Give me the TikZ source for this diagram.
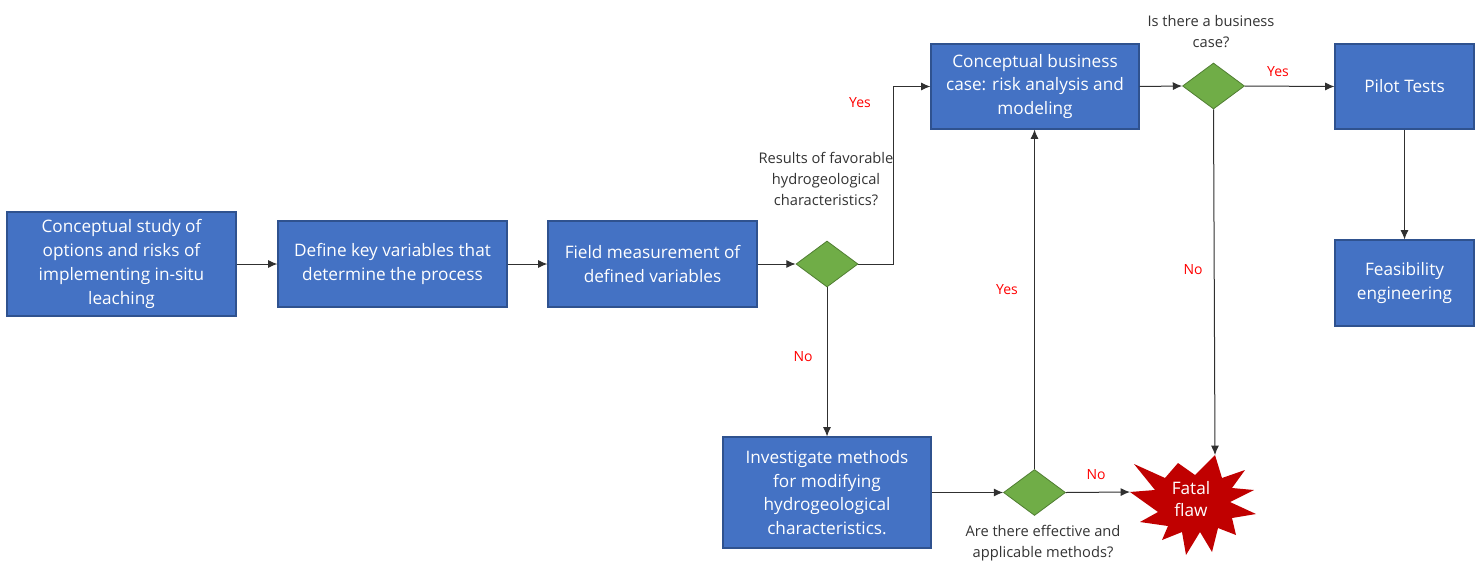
\documentclass[tikz,border=0pt]{standalone}
\usepackage{fontspec}
\setmainfont{Open Sans}
\usetikzlibrary{arrows.meta,shapes.geometric}
\definecolor{boxblue}{HTML}{4472C4}
\definecolor{boxedge}{HTML}{2F528F}
\definecolor{decgreen}{HTML}{70AD47}
\definecolor{decedge}{HTML}{507E32}
\definecolor{starred}{HTML}{C00000}
\definecolor{linegray}{HTML}{303030}
\begin{document}
\begin{tikzpicture}[x=0.75pt,y=-0.75pt,
  box/.style={draw=boxedge, fill=boxblue, text=white, align=center,
    font=\fontsize{12.9}{17.8}\selectfont, inner sep=0pt, line width=0.8pt},
  dec/.style={diamond, draw=decedge, fill=decgreen, inner sep=0pt,
    minimum width=46.5pt, minimum height=34.5pt, line width=0.6pt},
  qtext/.style={align=center, text=black!80, font=\fontsize{11}{15.75}\selectfont, inner sep=0pt},
  ans/.style={text=red, font=\fontsize{10.5}{13}\selectfont, inner sep=0pt},
  arr/.style={draw=linegray, line width=0.75pt, -{Latex[length=7pt,width=6pt]}},
  ln/.style={draw=linegray, line width=0.75pt}]
\useasboundingbox (0,0) rectangle (1482,561);

% boxes
\node[box, minimum width=171.75pt, minimum height=78pt] (b1) at (121.5,264)
  {Conceptual study of\\options and risks of\\implementing in-situ\\leaching};
\node[box, minimum width=171.75pt, minimum height=64.5pt] (b2) at (392.5,264)
  {Define key variables that\\determine the process};
\node[box, minimum width=156.75pt, minimum height=64.5pt] (b3) at (652.5,264)
  {Field measurement of\\defined variables};
\node[dec] (d1) at (827,264) {};
\node[box, minimum width=156pt, minimum height=63.75pt] (b5) at (1035,86.5)
  {Conceptual business\\case: risk analysis and\\modeling};
\node[dec] (d2) at (1213.5,86) {};
\node[box, minimum width=104.25pt, minimum height=63.75pt] (b7) at (1404.5,86.5)
  {Pilot Tests};
\node[box, minimum width=104.25pt, minimum height=64.5pt] (b8) at (1404.5,283)
  {Feasibility\\engineering};
\node[box, minimum width=156pt, minimum height=83.25pt] (b9) at (827,492.5)
  {Investigate methods\\for modifying\\hydrogeological\\characteristics.};
\node[dec] (d3) at (1034.5,492.5) {};

% star (fatal flaw)
\coordinate (O1) at (1215,455);
\coordinate (O10) at (1130,492);
\fill[starred] (O1) -- (1222,478) -- (1245,470) -- (1232,488) -- (1254,490)
  -- (1230,502) -- (1256,514) -- (1232,518) -- (1236,535) -- (1218,528)
  -- (1212,552) -- (1200,532) -- (1186,555) -- (1182,532) -- (1162,540)
  -- (1168,526) -- (1140,522) -- (1158,512) -- (O10) -- (1155,490)
  -- (1134,464) -- (1165,478) -- (1178,463) -- (1195,475) -- cycle;
\node[text=white, align=center, font=\fontsize{12.9}{17}\selectfont, inner sep=0pt] (fatal) at (1191,499) {Fatal\\flaw};

% question texts
\node[qtext] (q1) at (826,179) {Results of favorable\\hydrogeological\\characteristics?};
\node[qtext] (q2) at (1211,32) {Is there a business\\case?};
\node[qtext] (q3) at (1043,543) {Are there effective and\\applicable methods?};

% connectors
\draw[arr] (b1) -- (b2);
\draw[arr] (b2) -- (b3);
\draw[arr] (b3) -- (d1);
\coordinate (c1) at (893,264);
\draw[arr] (d1.east) -- (c1) |- (b5.west);
\draw[arr] (d1.south) -- (b9.north);
\draw[arr] (b9.east) -- (d3.west);
\draw[arr] (d3.north) -- (d3.north |- b5.south);
\draw[arr] (d3.east) -- (O10);
\draw[arr] (b5.east) -- (d2.west);
\draw[arr] (d2.east) -- (b7.west);
\draw[arr] (d2.south) -- (O1);
\draw[arr] (b7.south) -- (b8.north);

% answers
\node[ans] (a1) at (860,103) {Yes};
\node[ans] (a2) at (803,357) {No};
\node[ans] (a3) at (1007,290) {Yes};
\node[ans] (a4) at (1096,475) {No};
\node[ans] (a5) at (1278,72) {Yes};
\node[ans] (a6) at (1193,270) {No};
\end{tikzpicture}
\end{document}
